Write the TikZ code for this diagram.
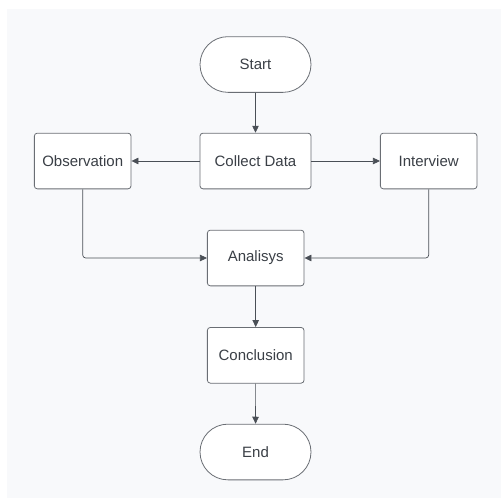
\documentclass[tikz,border=0pt]{standalone}
\usepackage{fontspec}
\setmainfont{Liberation Sans}
\usetikzlibrary{arrows.meta,shapes.misc}
\definecolor{bgc}{HTML}{F8F9FB}
\definecolor{linec}{HTML}{6A6E74}
\definecolor{txtc}{HTML}{3A3F46}
\definecolor{arrc}{HTML}{4A4F56}
\tikzset{
  box/.style={draw=linec, fill=white, line width=0.8pt, rounded corners=3pt,
    minimum width=96.7pt, minimum height=55.7pt, inner sep=0pt,
    font=\fontsize{15}{18}\selectfont, text=txtc},
  widebox/.style={box, minimum width=111pt},
  term/.style={draw=linec, fill=white, line width=0.8pt, rounded rectangle,
    minimum width=111pt, minimum height=55.7pt, inner sep=0pt,
    font=\fontsize{15}{18}\selectfont, text=txtc},
  conn/.style={draw=arrc, line width=0.7pt, rounded corners=3pt,
    -{Triangle[length=7pt,width=6.5pt]}}
}
\begin{document}
\begin{tikzpicture}[x=1pt,y=-1pt]
\useasboundingbox (0,0) rectangle (501,498);
\fill[white] (0,0) rectangle (501,498);
\fill[bgc] (7,9) rectangle (501,497.5);
\node[term] (start) at (255.5,64.5) {Start};
\node[widebox] (collect) at (255.5,161) {Collect Data};
\node[box] (obs) at (82.7,161) {Observation};
\node[box] (int) at (428.7,161) {Interview};
\node[box] (ana) at (255.7,258) {Analisys};
\node[box] (con) at (255.7,355.3) {Conclusion};
\node[term] (end) at (255.5,452) {End};
\draw[conn] (start) -- (collect);
\draw[conn] (collect) -- (obs);
\draw[conn] (collect) -- (int);
\draw[conn] (obs.south) |- (ana.west);
\draw[conn] (int.south) |- (ana.east);
\draw[conn] (ana) -- (con);
\draw[conn] (con) -- (end);
\end{tikzpicture}
\end{document}
